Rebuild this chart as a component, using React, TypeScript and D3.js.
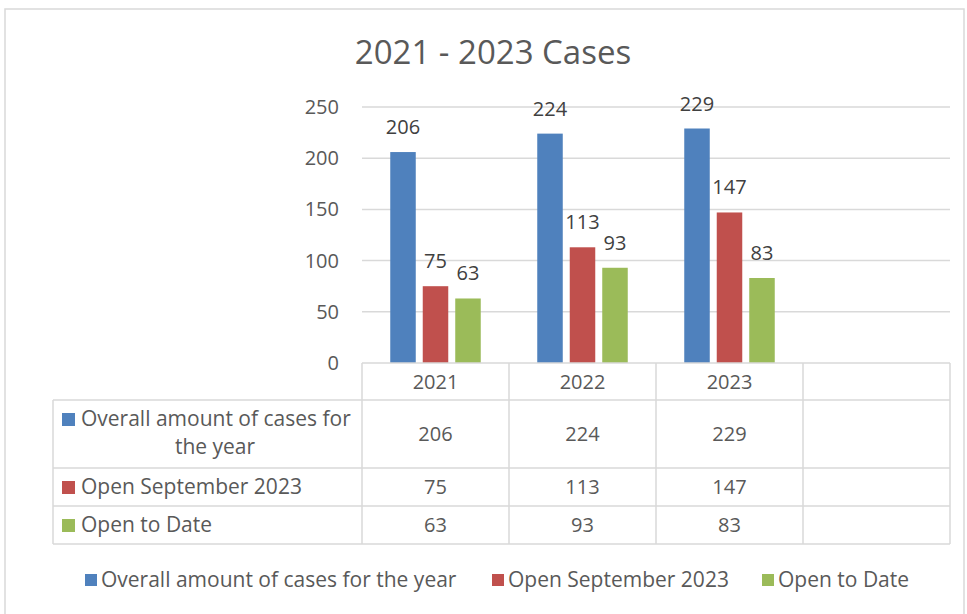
import React from "react";
import * as d3 from "d3";

const categories = ["2021", "2022", "2023", ""];
const seriesNames = ["Overall amount of cases for the year", "Open September 2023", "Open to Date"];
const overall = [206, 224, 229];
const openSept = [75, 113, 147];
const openToDate = [63, 93, 83];
const yTicks = [0, 50, 100, 150, 200, 250];
const colors = ["#4f81bd", "#c0504d", "#9bbb59"];

const W = 967;
const H = 614;
const FONT = "'Open Sans', Lato, sans-serif";
const TXT = "#595959";
const GRID = "#d9d9d9";

export default function App() {
  const series = [overall, openSept, openToDate];
  const x = d3.scaleBand<string>().domain(categories).range([362, 950]).paddingInner(0).paddingOuter(0);
  const bw = x.bandwidth();
  const inner = d3.scaleBand<number>().domain([0, 1, 2]).range([bw / 2 - 45.25, bw / 2 + 45.25]).paddingInner(0.215).paddingOuter(0);
  const y = d3.scaleLinear().domain([0, 250]).range([363, 107]);

  const tableTop = 363;
  const rowBounds = [363, 400, 468, 506, 544];
  const tableLeft = 53;
  const tableRight = 950;

  return (
    <svg width={W} height={H} style={{ position: "absolute", left: 0, top: 0, background: "#fff" }} fontFamily={FONT}>
      <rect x={5} y={9} width={959} height={700} fill="#fff" stroke={GRID} strokeWidth={1.5} />
      <text x={493} y={64} textAnchor="middle" fontSize={33} fill={TXT}>2021 - 2023 Cases</text>

      {yTicks.filter(t => t > 0).map(t => (
        <line key={"g" + t} x1={362} x2={950} y1={y(t)} y2={y(t)} stroke={GRID} strokeWidth={1.5} />
      ))}
      {yTicks.map(t => (
        <text key={"t" + t} x={339} y={y(t)} dy="0.35em" textAnchor="end" fontSize={20} fill={TXT}>{t}</text>
      ))}

      {series.map((vals, si) =>
        vals.map((v, ci) => {
          const bx = (x(categories[ci]) as number) + (inner(si) as number);
          return (
            <g key={`b${si}-${ci}`}>
              <rect x={bx} y={y(v)} width={inner.bandwidth()} height={y(0) - y(v)} fill={colors[si]} />
              <text x={bx + inner.bandwidth() / 2} y={y(v) - 18} textAnchor="middle" fontSize={20} fill="#404040">{v}</text>
            </g>
          );
        })
      )}

      {/* data table */}
      <g stroke={GRID} strokeWidth={1.5} fill="none">
        <line x1={362} x2={tableRight} y1={tableTop} y2={tableTop} />
        {rowBounds.slice(1).map(r => (
          <line key={"r" + r} x1={tableLeft} x2={tableRight} y1={r} y2={r} />
        ))}
        <line x1={tableLeft} x2={tableLeft} y1={400} y2={544} />
        {categories.map(c => (
          <line key={"c" + c} x1={x(c) as number} x2={x(c) as number} y1={tableTop} y2={544} />
        ))}
        <line x1={tableRight} x2={tableRight} y1={tableTop} y2={544} />
      </g>
      {categories.map(c => (
        <text key={"h" + c} x={(x(c) as number) + bw / 2} y={(rowBounds[0] + rowBounds[1]) / 2} dy="0.35em" textAnchor="middle" fontSize={20} fill={TXT}>{c}</text>
      ))}
      {series.map((vals, si) => {
        const cy = (rowBounds[si + 1] + rowBounds[si + 2]) / 2;
        return (
          <g key={"row" + si}>
            {vals.map((v, ci) => (
              <text key={ci} x={(x(categories[ci]) as number) + bw / 2} y={cy} dy="0.35em" textAnchor="middle" fontSize={20} fill={TXT}>{v}</text>
            ))}
          </g>
        );
      })}
      {/* row headers */}
      <rect x={62} y={413} width={13} height={13} fill={colors[0]} />
      <text x={81} y={419} dy="0.35em" fontSize={21} fill={TXT}>Overall amount of cases for</text>
      <text x={215} y={447} dy="0.35em" textAnchor="middle" fontSize={21} fill={TXT}>the year</text>
      <rect x={62} y={481} width={13} height={13} fill={colors[1]} />
      <text x={81} y={487} dy="0.35em" fontSize={21} fill={TXT}>{seriesNames[1]}</text>
      <rect x={62} y={519} width={13} height={13} fill={colors[2]} />
      <text x={81} y={525} dy="0.35em" fontSize={21} fill={TXT}>{seriesNames[2]}</text>

      {/* legend */}
      {[85, 492, 762].map((lx, i) => (
        <g key={"l" + i}>
          <rect x={lx} y={574} width={12} height={12} fill={colors[i]} />
          <text x={lx + 16} y={580} dy="0.35em" fontSize={21} fill={TXT}>{seriesNames[i]}</text>
        </g>
      ))}
    </svg>
  );
}
